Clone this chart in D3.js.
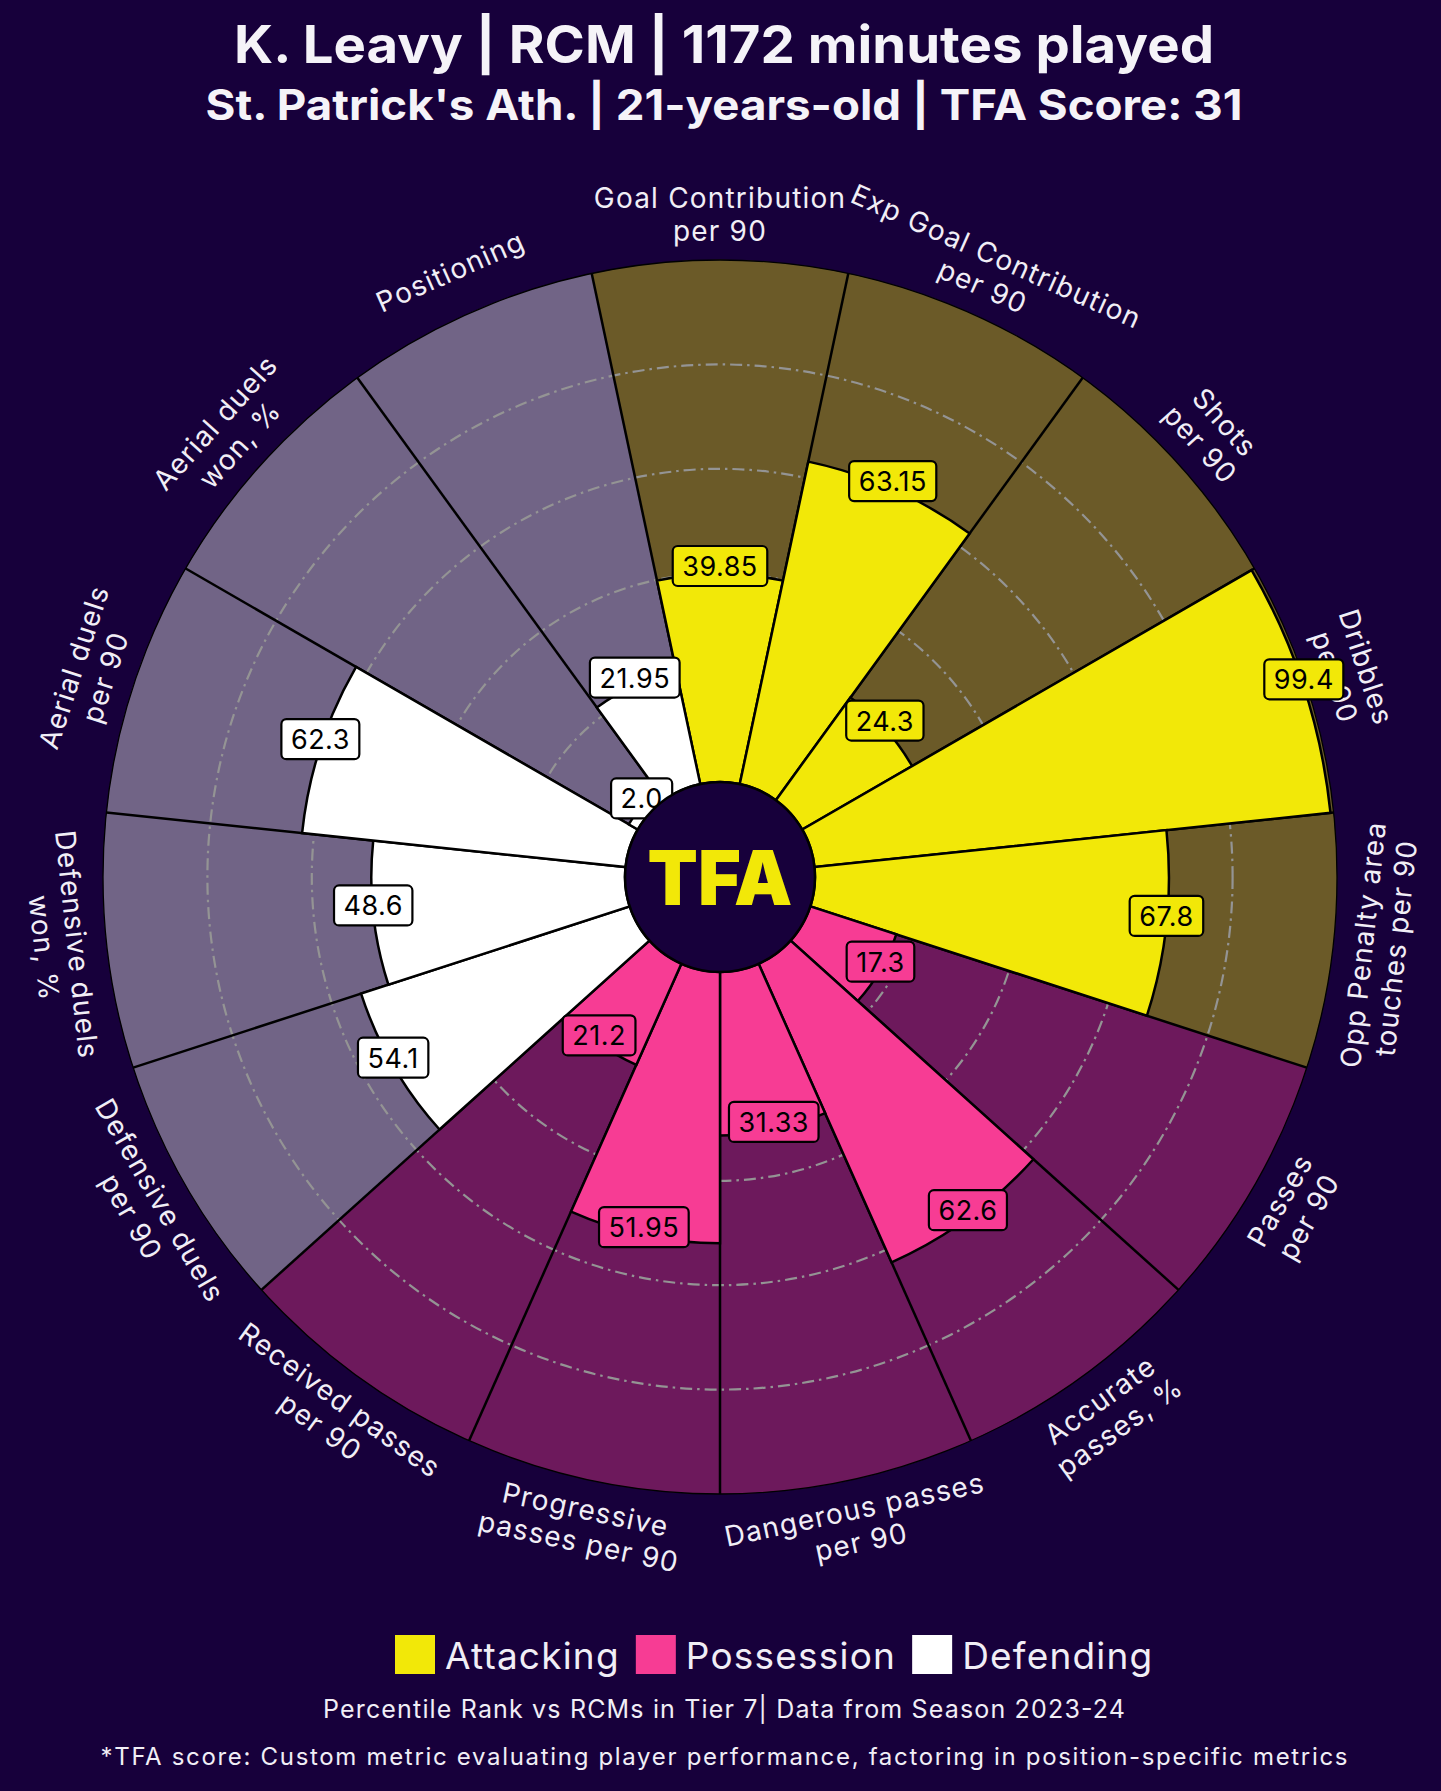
<!DOCTYPE html>
<html><head><meta charset="utf-8">
<script src="https://cdn.jsdelivr.net/npm/d3@7"></script>
<style>
html,body{margin:0;padding:0;background:#17003b;}
svg{display:block;}
</style>
</head><body>
<svg id="chart" width="1441" height="1791"></svg>
<script>
// ---------- data ----------
const params = [
  "Goal Contribution\nper 90",
  "Exp Goal Contribution\nper 90",
  "Shots\nper 90",
  "Dribbles\nper 90",
  "Opp Penalty area\ntouches per 90",
  "Passes\nper 90",
  "Accurate\npasses, %",
  "Dangerous passes\nper 90",
  "Progressive\npasses per 90",
  "Received passes\nper 90",
  "Defensive duels\nper 90",
  "Defensive duels\nwon, %",
  "Aerial duels\nper 90",
  "Aerial duels\nwon, %",
  "Positioning"
];
const values = [39.85, 63.15, 24.3, 99.4, 67.8, 17.3, 62.6, 31.33, 51.95, 21.2, 54.1, 48.6, 62.3, 2.0, 21.95];
const groups = ["Attacking","Attacking","Attacking","Attacking","Attacking",
                "Possession","Possession","Possession","Possession","Possession",
                "Defending","Defending","Defending","Defending","Defending"];
const groupNames = ["Attacking","Possession","Defending"];
const gridTicks = [20, 40, 60, 80];
const titleText = "K. Leavy | RCM | 1172 minutes played";
const subtitleText = "St. Patrick's Ath. | 21-years-old | TFA Score: 31";
const footer1 = "Percentile Rank vs RCMs in Tier 7| Data from Season 2023-24";
const footer2 = "*TFA score: Custom metric evaluating player performance, factoring in position-specific metrics";

// ---------- styles ----------
const BG = "#17003b";
const valueColor = d3.scaleOrdinal().domain(groupNames).range(["#f2e808", "#f73c94", "#ffffff"]);
const sliceColor = d3.scaleOrdinal().domain(groupNames).range(["#6b5a28", "#6d195c", "#716486"]);
const FONT = "Inter, 'Open Sans', sans-serif";
const TXT = "#f1eef6";

const cx = 720, cy = 877, rInner = 95, rOuter = 617;
const svg = d3.select("#chart");
svg.append("rect").attr("width", 1441).attr("height", 1791).attr("fill", BG);

const step = 2 * Math.PI / params.length;
const ang = d3.scaleBand().domain(d3.range(params.length)).range([-step / 2, 2 * Math.PI - step / 2]).padding(0);
const rad = d3.scaleLinear().domain([0, 100]).range([rInner, rOuter]);

const g = svg.append("g").attr("transform", `translate(${cx},${cy})`);
const idx = d3.range(params.length);

// background slices
const bgArc = d3.arc().innerRadius(rInner).outerRadius(rad(100))
  .startAngle(i => ang(i)).endAngle(i => ang(i) + ang.bandwidth());
g.selectAll("path.bg").data(idx).join("path").attr("class", "bg")
  .attr("d", bgArc).attr("fill", i => sliceColor(groups[i]));

// outer circle
g.append("circle").attr("r", rad(100)).attr("fill", "none").attr("stroke", "#000").attr("stroke-width", 1.3);

// grid circles
g.selectAll("circle.grid").data(gridTicks).join("circle").attr("class", "grid")
  .attr("r", d => rad(d)).attr("fill", "none").attr("stroke", "#949494")
  .attr("stroke-width", 2.2).attr("stroke-dasharray", "12,5,2.5,5");

// radial straight lines
g.selectAll("line.sep").data(idx).join("line").attr("class", "sep")
  .attr("x1", i => rInner * Math.sin(ang(i))).attr("y1", i => -rInner * Math.cos(ang(i)))
  .attr("x2", i => rad(100) * Math.sin(ang(i))).attr("y2", i => -rad(100) * Math.cos(ang(i)))
  .attr("stroke", "#000").attr("stroke-width", 2.5);

// value bars
const valArc = d3.arc().innerRadius(rInner).outerRadius(i => rad(values[i]))
  .startAngle(i => ang(i)).endAngle(i => ang(i) + ang.bandwidth());
g.selectAll("path.val").data(idx).join("path").attr("class", "val")
  .attr("d", valArc).attr("fill", i => valueColor(groups[i]))
  .attr("stroke", "#000").attr("stroke-width", 2.5).attr("stroke-linejoin", "miter");

// parameter labels
const labelR = rad(100) + 46;
const fsLab = 28, lhLab = 33;
params.forEach((p, i) => {
  const a = ang(i) + ang.bandwidth() / 2;
  const deg = a * 180 / Math.PI;
  let rot = (deg <= 90 || deg >= 270) ? (deg > 180 ? deg - 360 : deg) : deg - 180;
  const x = labelR * Math.sin(a), y = -labelR * Math.cos(a);
  const lines = p.split("\n");
  const t = g.append("text")
    .attr("transform", `translate(${x},${y}) rotate(${rot})`)
    .attr("text-anchor", "middle").attr("fill", TXT)
    .style("font-family", FONT).style("font-size", fsLab + "px")
    .style("letter-spacing", "1.2px");
  lines.forEach((l, k) => {
    t.append("tspan").attr("x", 0)
      .attr("y", (k - (lines.length - 1) / 2) * lhLab + fsLab * 0.36)
      .text(l);
  });
});

// value boxes
const fmt = v => Number.isInteger(v) ? v.toFixed(1) : String(v);
idx.forEach(i => {
  const a = ang(i) + ang.bandwidth() / 2;
  const r = rad(values[i]);
  const x = r * Math.sin(a), y = -r * Math.cos(a) - 8;
  const bg = g.append("g").attr("transform", `translate(${x},${y})`);
  const rect = bg.append("rect");
  const t = bg.append("text").attr("text-anchor", "middle").attr("y", 10)
    .attr("fill", "#000").style("font-family", FONT).style("font-size", "27px")
    .style("letter-spacing", "0.5px")
    .text(fmt(values[i]));
  const w = t.node().getComputedTextLength() + 19;
  rect.attr("x", -w / 2).attr("y", -20).attr("width", w).attr("height", 40)
    .attr("rx", 5).attr("fill", valueColor(groups[i])).attr("stroke", "#000").attr("stroke-width", 2.2);
});

// center circle and logo
g.append("circle").attr("r", rInner).attr("fill", BG).attr("stroke", "#000").attr("stroke-width", 2.5);
g.append("text").attr("text-anchor", "middle").attr("x", 0).attr("y", 28)
  .attr("fill", "#f2e808").style("font-family", FONT).style("font-weight", 900)
  .style("font-size", "76px").attr("textLength", 145).attr("lengthAdjust", "spacingAndGlyphs")
  .text("TFA");

// titles
svg.append("text").attr("x", 724).attr("y", 63).attr("text-anchor", "middle")
  .attr("fill", "#f5f3f8").style("font-family", FONT).style("font-weight", 700)
  .style("font-size", "52px").attr("textLength", 980).attr("lengthAdjust", "spacingAndGlyphs")
  .text(titleText);
svg.append("text").attr("x", 724).attr("y", 120).attr("text-anchor", "middle")
  .attr("fill", "#f5f3f8").style("font-family", FONT).style("font-weight", 700)
  .style("font-size", "42px").attr("textLength", 1037).attr("lengthAdjust", "spacingAndGlyphs")
  .text(subtitleText);

// legend
let lx = 395;
const lg = svg.append("g");
groupNames.forEach(n => {
  lg.append("rect").attr("x", lx).attr("y", 1635).attr("width", 40).attr("height", 39)
    .attr("fill", valueColor(n));
  const t = lg.append("text").attr("x", lx + 50).attr("y", 1669).attr("fill", TXT)
    .style("font-family", FONT).style("font-size", "37px").style("letter-spacing", "1.2px").text(n);
  lx += 50 + t.node().getComputedTextLength() + 16;
});

// footers
svg.append("text").attr("x", 724).attr("y", 1718).attr("text-anchor", "middle")
  .attr("fill", TXT).style("font-family", FONT).style("font-size", "25px")
  .attr("textLength", 802).attr("lengthAdjust", "spacing")
  .text(footer1);
svg.append("text").attr("x", 724).attr("y", 1765).attr("text-anchor", "middle")
  .attr("fill", TXT).style("font-family", FONT).style("font-size", "24px")
  .attr("textLength", 1247).attr("lengthAdjust", "spacing")
  .text(footer2);
</script>
</body></html>
